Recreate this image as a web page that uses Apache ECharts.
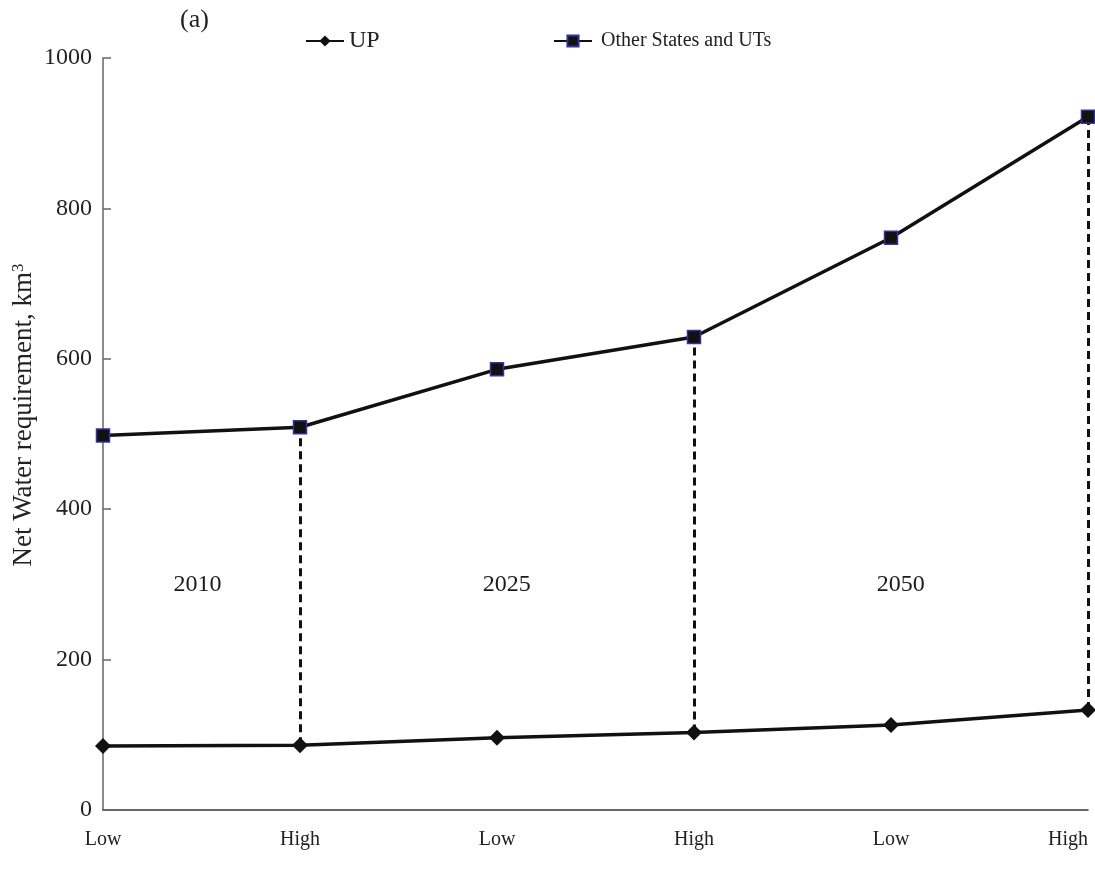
<!DOCTYPE html>
<html>
<head>
<meta charset="utf-8">
<script src="https://cdn.jsdelivr.net/npm/echarts@6/dist/echarts.min.js"></script>
<style>
  html, body { margin: 0; padding: 0; background: #fff; }
  #chart { width: 1095px; height: 873px; }
</style>
</head>
<body>
<div id="chart"></div>
<script>
// Scenario categories along the x axis
const categories = ['Low', 'High', 'Low', 'High', 'Low', 'High'];
// Net water requirement, km³
const upValues = [85, 86, 96, 103, 113, 133];
const otherValues = [498, 509, 586, 629, 761, 922];
// Year labels placed between scenario pairs: [x position in category units, y value, text]
const yearTags = [[0.48, 300, '2010'], [2.05, 300, '2025'], [4.05, 300, '2050']];
// Indices where dashed separators join the two series
const separatorIdx = [1, 3, 5];
const yTicks = [0, 200, 400, 600, 800, 1000];

const serif = '"Liberation Serif", "Times New Roman", serif';

const separators = separatorIdx.map(i => [[i, upValues[i]], [i, otherValues[i]]]);

const chart = echarts.init(document.getElementById('chart'));
chart.setOption({
  animation: false,
  backgroundColor: '#fff',
  textStyle: { fontFamily: serif },
  title: {
    text: '(a)',
    left: 180, top: 7, padding: 0,
    textStyle: { fontFamily: serif, fontSize: 26, fontWeight: 'normal', color: '#222' }
  },
  legend: [
    {
      top: 29, left: 305, padding: 0,
      itemWidth: 38, itemHeight: 14,
      textStyle: { fontFamily: serif, fontSize: 24, color: '#222' },
      data: ['UP']
    },
    {
      top: 31, left: 553, padding: 0,
      itemWidth: 38, itemHeight: 14,
      textStyle: { fontFamily: serif, fontSize: 20, color: '#222', padding: [0, 0, 0, 4] },
      data: ['Other States and UTs']
    }
  ],
  grid: { left: 103, right: 7, top: 58, bottom: 63, containLabel: false, outerBoundsMode: 'none' },
  xAxis: [
    {
      type: 'category',
      data: categories,
      boundaryGap: false,
      axisLine: { lineStyle: { color: '#333', width: 1.5 } },
      axisTick: { show: false },
      axisLabel: { fontFamily: serif, fontSize: 20, color: '#222', margin: 20, alignMaxLabel: 'right' },
      splitLine: { show: false }
    },
    {
      // hidden linear axis used to place the year labels between categories
      type: 'value', min: 0, max: 5, show: false
    }
  ],
  yAxis: {
    type: 'value',
    min: 0, max: 1000, interval: 200,
    name: 'Net Water requirement, km{sup|3}',
    nameLocation: 'middle',
    nameGap: 66,
    nameMoveOverlap: false,
    nameTextStyle: {
      fontFamily: serif, fontSize: 27, color: '#222',
      padding: [0, 0, 0, 38],
      rich: { sup: { fontFamily: serif, fontSize: 17, color: '#222', verticalAlign: 'top', padding: [0, 0, 10, 0] } }
    },
    axisLine: { show: true, lineStyle: { color: '#666', width: 1.5 } },
    axisTick: { show: true, inside: true, length: 8, lineStyle: { color: '#666', width: 1.5 } },
    axisLabel: {
      fontFamily: serif, fontSize: 24, color: '#222', margin: 11,
      formatter: v => (yTicks.includes(v) ? String(v) : '')
    },
    splitLine: { show: false }
  },
  series: [
    {
      name: 'separators',
      type: 'lines',
      coordinateSystem: 'cartesian2d',
      z: 1,
      silent: true,
      lineStyle: { color: '#111', width: 3, type: [8, 5], opacity: 1 },
      data: separators.map(c => ({ coords: c }))
    },
    {
      name: 'UP',
      type: 'line',
      data: upValues,
      z: 3,
      symbol: 'diamond',
      symbolSize: 16,
      showAllSymbol: true,
      lineStyle: { color: '#111', width: 3.5 },
      itemStyle: { color: '#111', borderColor: '#111', borderWidth: 0 }
    },
    {
      name: 'Other States and UTs',
      type: 'line',
      data: otherValues,
      z: 3,
      symbol: 'rect',
      symbolSize: 13,
      showAllSymbol: true,
      lineStyle: { color: '#111', width: 3.5 },
      itemStyle: { color: '#111', borderColor: '#33339a', borderWidth: 1.5 }
    },
    {
      name: 'years',
      type: 'scatter',
      xAxisIndex: 1,
      symbolSize: 0,
      silent: true,
      itemStyle: { opacity: 1, color: '#111' },
      data: yearTags.map(t => ({ value: [t[0], t[1]], name: t[2] })),
      label: {
        show: true,
        position: 'inside',
        formatter: p => p.name,
        fontFamily: serif, fontSize: 24, color: '#1a1a1a',
        textBorderWidth: 0
      }
    }
  ]
});
</script>
</body>
</html>
